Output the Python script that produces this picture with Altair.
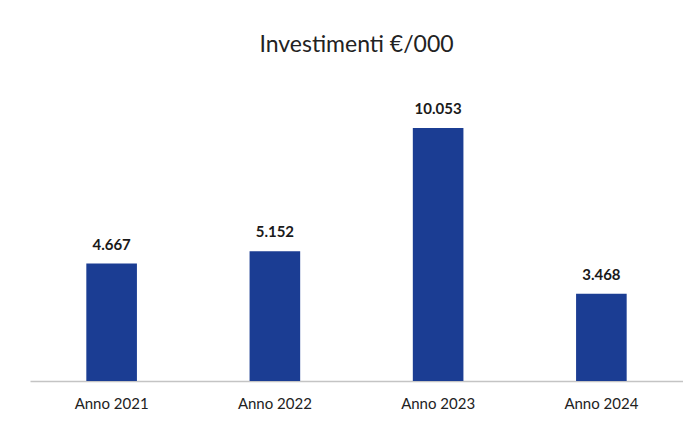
import altair as alt
import pandas as pd

categories = ["Anno 2021", "Anno 2022", "Anno 2023", "Anno 2024"]
values = [4667, 5152, 10053, 3468]
labels = ["4.667", "5.152", "10.053", "3.468"]

df = pd.DataFrame({"anno": categories, "valore": values, "etichetta": labels})

FONT = "Lato"
BLUE = "#1b3d93"

base = alt.Chart(df).encode(
    x=alt.X(
        "anno:N",
        sort=categories,
        title=None,
        scale=alt.Scale(paddingInner=0.69, paddingOuter=0.345),
        axis=alt.Axis(
            labelAngle=0,
            labelFontSize=15,
            labelFont=FONT,
            labelColor="#222222",
            labelPadding=15,
            ticks=False,
            domainColor="#c4c4c4",
            domainWidth=1.5,
        ),
    ),
    y=alt.Y(
        "valore:Q",
        title=None,
        scale=alt.Scale(domain=[0, 12000], nice=False),
        axis=None,
    ),
)

bars = base.mark_bar(color=BLUE)
text = base.mark_text(
    baseline="bottom", dy=-11, fontSize=15, fontWeight="bold", font=FONT, color="#1a1a1a"
).encode(text="etichetta:N")

chart = (
    (bars + text)
    .properties(
        width=653,
        height=302,
        title=alt.TitleParams(
            "Investimenti €/000",
            fontSize=23,
            font=FONT,
            fontWeight="normal",
            color="#222222",
            anchor="middle",
            offset=22,
        ),
        autosize=alt.AutoSizeParams(type="none"),
        padding={"left": 22, "top": 71, "right": 0, "bottom": 36},
        background="white",
    )
    .configure_view(stroke=None)
)

chart.save("out.html", embed_options={"renderer": "svg", "actions": False})
